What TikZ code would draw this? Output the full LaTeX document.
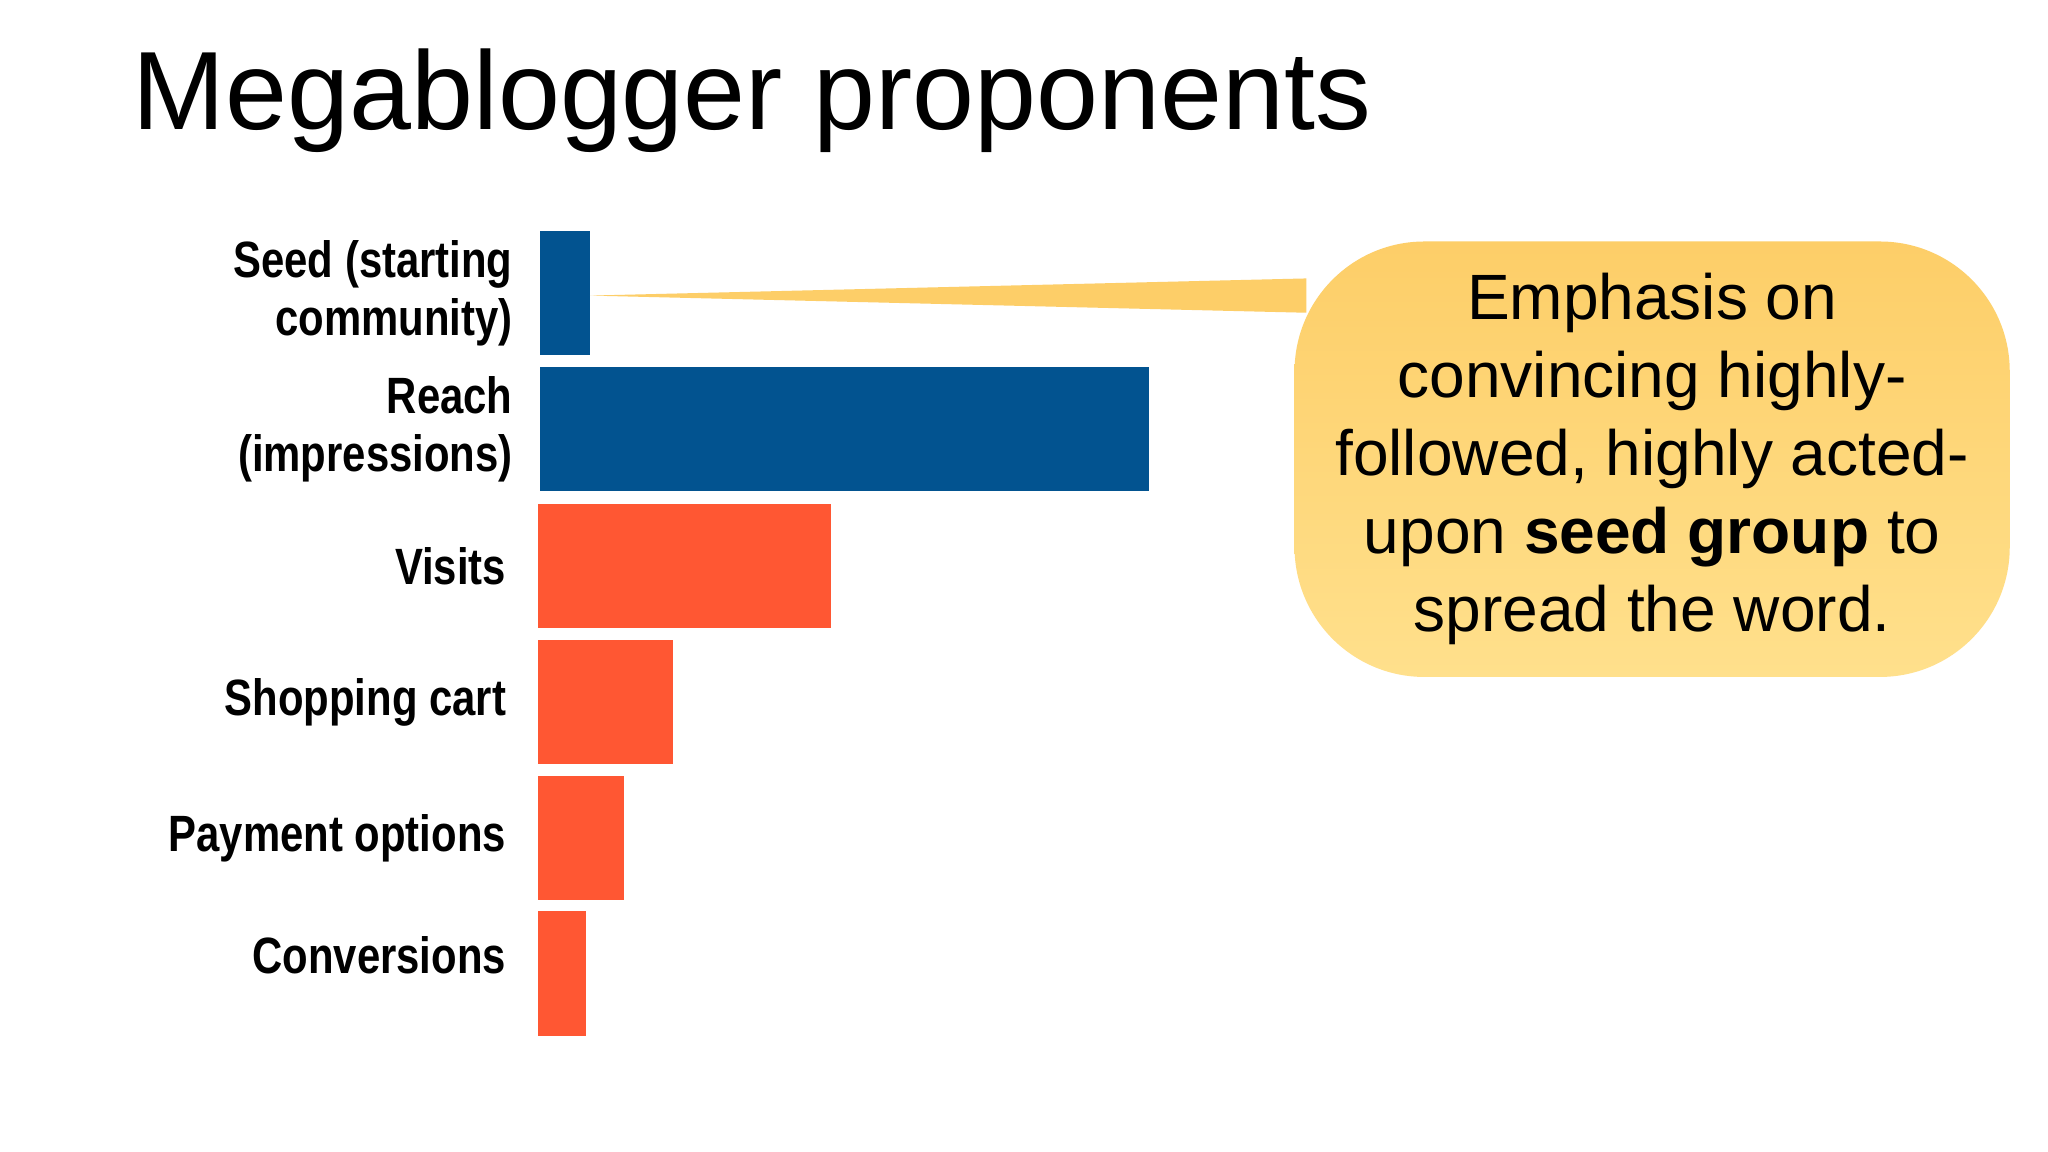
\documentclass[tikz,border=0pt]{standalone}
\usepackage{fontspec}
\setmainfont{Liberation Sans}
\begin{document}
\begin{tikzpicture}[x=0.01cm,y=-0.01cm,
  blue/.style={fill={rgb,255:red,2;green,83;blue,144}},
  orng/.style={fill={rgb,255:red,255;green,87;blue,51}},
  lbl/.style={anchor=east,align=right,font=\bfseries\fontsize{11}{12.5}\selectfont,xscale=0.82,inner sep=0pt}]
\definecolor{callA}{RGB}{253,206,104}
\definecolor{callB}{RGB}{255,224,140}
\useasboundingbox (0,0) rectangle (1552,873);
\fill[white] (0,0) rectangle (1552,873);
\node[anchor=base west,inner sep=0pt,font=\fontsize{24}{28}\selectfont] (title) at (100,98) {Megablogger proponents};
% bars
\path[blue] (409,175) rectangle (447,269) coordinate (seedc);
\coordinate (tip) at (447,224);
\path[blue] (409,278) rectangle (871,372);
\path[orng] (408,382) rectangle (630,476);
\path[orng] (408,485) rectangle (510,579);
\path[orng] (408,588) rectangle (473,682);
\path[orng] (408,690) rectangle (444,785);
% labels
\node[lbl] (l1) at (389,222) {Seed (starting\\community)};
\node[lbl] (l2) at (389,325) {Reach\\(impressions)};
\node[lbl] (l3) at (384,429) {Visits};
\node[lbl] (l4) at (384,532) {Shopping cart};
\node[lbl] (l5) at (384,635) {Payment options};
\node[lbl] (l6) at (384,724) {Conversions};
% pointer
\fill[callA] (tip) -- (990,211) -- (990,237) -- cycle;
% callout
\shade[top color=callA,bottom color=callB,rounded corners=28] (981,183) rectangle (1523,513);
\node[align=center,font=\fontsize{13.8}{16.8}\selectfont,inner sep=0pt] (call) at (1252,348)
 {Emphasis on\\convincing highly-\\followed, highly acted-\\upon \textbf{seed group} to\\spread the word.};
\end{tikzpicture}
\end{document}
